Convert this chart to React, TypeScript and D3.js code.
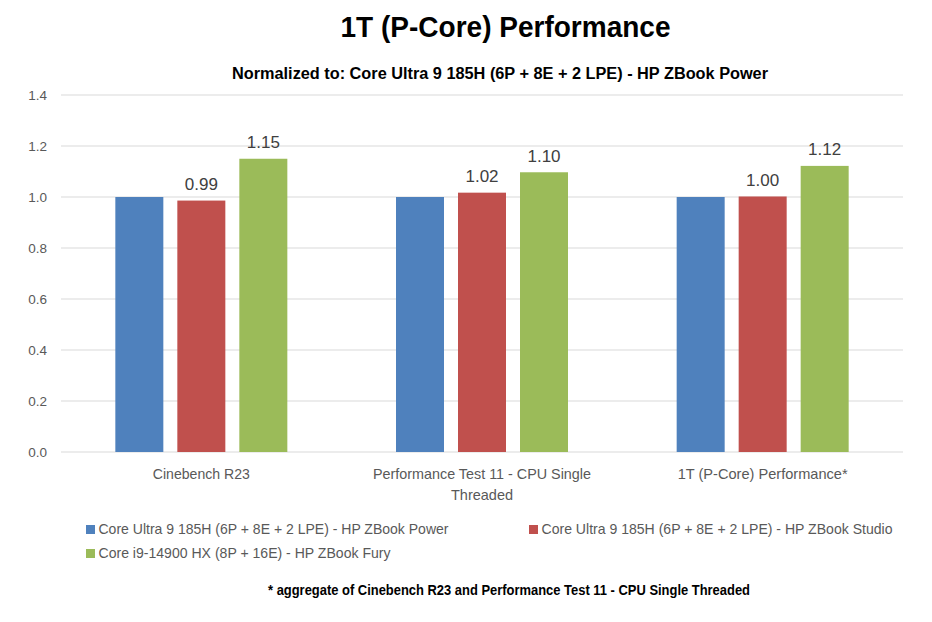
import React from "react";
import * as d3 from "d3";

const categories = ["Cinebench R23", "Performance Test 11 - CPU Single Threaded", "1T (P-Core) Performance*"];
const categoryLines = [["Cinebench R23"], ["Performance Test 11 - CPU Single", "Threaded"], ["1T (P-Core) Performance*"]];
const seriesNames = [
  "Core Ultra 9 185H (6P + 8E + 2 LPE) - HP ZBook Power",
  "Core Ultra 9 185H (6P + 8E + 2 LPE) - HP ZBook Studio",
  "Core i9-14900 HX (8P + 16E) - HP ZBook Fury",
];
const powerValues = [1.0, 1.0, 1.0];
const studioValues = [0.986, 1.017, 1.002];
const furyValues = [1.15, 1.097, 1.122];
const seriesValues = [powerValues, studioValues, furyValues];
const showLabels = [false, true, true];
const colors = ["#4F81BD", "#C0504D", "#9BBB59"];
const yTicks = [0, 0.2, 0.4, 0.6, 0.8, 1.0, 1.2, 1.4];

// rendering widths (px) to mimic a condensed Calibri-like face
const catLineWidths = [[97], [218, 62], [170]];
const legendWidths = [350, 351, 292];

const W = 932, H = 622;
const FONT = "'Liberation Sans', Arial, sans-serif";

export default function App() {
  const left = 61, right = 903, top = 95, bottom = 452;
  const y = d3.scaleLinear().domain([0, 1.4]).range([bottom, top]);
  const x0 = d3.scaleBand<string>().domain(categories).range([left, right]).padding(0);
  const groupW = 172;
  const x1 = d3.scaleBand<number>().domain([0, 1, 2]).range([0, groupW]).paddingInner(14 / 62).paddingOuter(0);

  return (
    <svg width={W} height={H} style={{ position: "absolute", left: 0, top: 0, background: "#fff" }} fontFamily={FONT}>
      <rect x={0} y={0} width={W} height={H} fill="#fff" />
      <text x={505.5} y={37} textAnchor="middle" fontSize={29} fontWeight="bold" fill="#000" textLength={330} lengthAdjust="spacingAndGlyphs">1T (P-Core) Performance</text>
      <text x={500} y={78.5} textAnchor="middle" fontSize={16} fontWeight="bold" fill="#000" textLength={536} lengthAdjust="spacingAndGlyphs">Normalized to: Core Ultra 9 185H (6P + 8E + 2 LPE) - HP ZBook Power</text>
      {yTicks.map((t) => (
        <g key={t}>
          <line x1={left} x2={right} y1={y(t)} y2={y(t)} stroke="#D9D9D9" strokeWidth={1} />
          <text x={47} y={y(t) + 4.5} textAnchor="end" fontSize={13.5} fill="#595959">{t.toFixed(1)}</text>
        </g>
      ))}
      {categories.map((c, ci) => {
        const gx = (x0(c) as number) + (x0.bandwidth() - groupW) / 2;
        return (
          <g key={c}>
            {seriesValues.map((vals, si) => {
              const v = vals[ci];
              const bx = gx + (x1(si) as number);
              return (
                <g key={si}>
                  <rect x={bx} y={y(v)} width={x1.bandwidth()} height={bottom - y(v)} fill={colors[si]} />
                  {showLabels[si] && (
                    <text x={bx + x1.bandwidth() / 2} y={y(v) - 10.5} textAnchor="middle" fontSize={17} fill="#404040">{v.toFixed(2)}</text>
                  )}
                </g>
              );
            })}
            {categoryLines[ci].map((ln, li) => (
              <text key={li} x={(x0(c) as number) + x0.bandwidth() / 2} y={479 + li * 21} textAnchor="middle" fontSize={14.5} fill="#595959" textLength={catLineWidths[ci][li]} lengthAdjust="spacingAndGlyphs">{ln}</text>
            ))}
          </g>
        );
      })}
      {seriesNames.map((s, si) => {
        const lx = si === 1 ? 529 : 86;
        const ly = si === 2 ? 558 : 534;
        return (
          <g key={s}>
            <rect x={lx} y={ly - 9} width={9} height={9} fill={colors[si]} />
            <text x={lx + 12.5} y={ly} fontSize={14.5} fill="#595959" textLength={legendWidths[si]} lengthAdjust="spacingAndGlyphs">{s}</text>
          </g>
        );
      })}
      <text x={509} y={595} textAnchor="middle" fontSize={14} fontWeight="bold" fill="#000" textLength={482} lengthAdjust="spacingAndGlyphs">* aggregate of Cinebench R23 and Performance Test 11 - CPU Single Threaded</text>
    </svg>
  );
}
